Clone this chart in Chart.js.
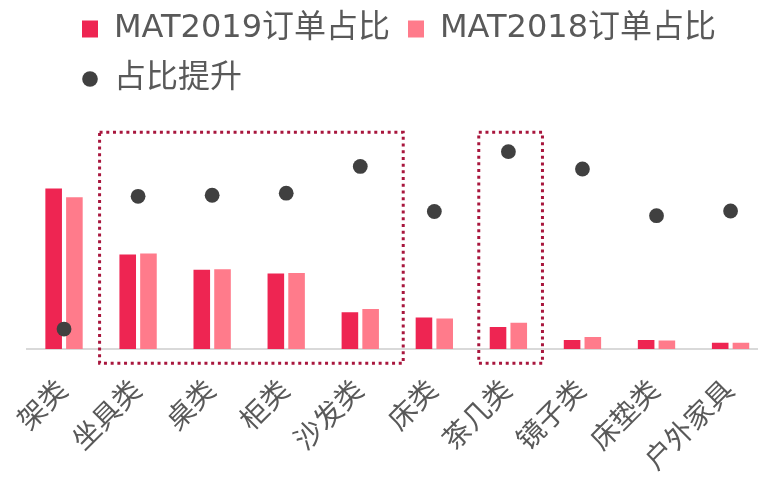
<!DOCTYPE html>
<html>
<head>
<meta charset="utf-8">
<script src="https://cdn.jsdelivr.net/npm/chart.js@4/dist/chart.umd.min.js"></script>
<style>
  html, body { margin: 0; padding: 0; background: #fff; overflow: hidden; }
  #wrap { width: 758px; height: 481px; overflow: hidden; }
  /* last category runs slightly past the right edge */
  #box { width: 775px; height: 481px; }
</style>
</head>
<body>
<div id="wrap"><div id="box"><canvas id="chart"></canvas></div></div>
<script>
const categories = ['架类', '坐具类', '桌类', '柜类', '沙发类', '床类', '茶几类', '镜子类', '床垫类', '户外家具'];
const share2019 = [30.6, 18.0, 15.1, 14.4, 7.0, 6.0, 4.2, 1.7, 1.7, 1.2];
const share2018 = [28.9, 18.2, 15.2, 14.5, 7.6, 5.8, 5.0, 2.3, 1.6, 1.2];
const shareLift = [3.8, 29.1, 29.3, 29.7, 34.8, 26.2, 37.6, 34.3, 25.4, 26.3];

const FONT = "'DejaVu Sans', 'Noto Sans CJK SC', sans-serif";
const TEXT = '#595959';
const DOT = '#404040';

// small round marker for the legend entry of the dots
function makeDot(r, color) {
    const c = document.createElement('canvas');
    c.width = c.height = Math.ceil(2 * r) + 2;
    const g = c.getContext('2d');
    g.fillStyle = color;
    g.beginPath();
    g.arc(c.width / 2, c.height / 2, r, 0, Math.PI * 2);
    g.fill();
    return c;
}
const legendDot = makeDot(7.8, DOT);

// dotted frames around groups of categories
const groupFrames = {
    id: 'groupFrames',
    afterDatasetsDraw(chart, args, opts) {
        const ctx = chart.ctx;
        const x = chart.scales.x, y = chart.scales.y;
        ctx.save();
        ctx.strokeStyle = opts.color;
        ctx.lineWidth = 3;
        ctx.setLineDash([3, 3.7]);
        opts.ranges.forEach(([from, to]) => {
            const l = x.getPixelForValue(from);
            const r = x.getPixelForValue(to);
            const t = y.getPixelForValue(opts.top);
            const b = y.getPixelForValue(opts.bottom);
            ctx.strokeRect(l, t, r - l, b - t);
        });
        ctx.restore();
    }
};

// legend rows start a bit right of the plot's left edge
const legendNudge = {
    id: 'legendNudge',
    afterLayout(chart) {
        chart.legend.left += 37;
        chart.legend.right += 37;
    }
};

new Chart(document.getElementById('chart'), {
    data: {
        labels: categories,
        datasets: [
            {
                type: 'bar',
                label: 'MAT2019订单占比',
                data: share2019,
                backgroundColor: '#EE2552',
                categoryPercentage: 0.56,
                barPercentage: 0.8,
                order: 1
            },
            {
                type: 'bar',
                label: 'MAT2018订单占比',
                data: share2018,
                backgroundColor: '#FF7B8B',
                categoryPercentage: 0.56,
                barPercentage: 0.8,
                order: 1
            },
            {
                type: 'line',
                label: '占比提升',
                data: shareLift,
                showLine: false,
                backgroundColor: DOT,
                borderColor: DOT,
                pointBackgroundColor: DOT,
                pointBorderWidth: 0,
                pointRadius: 7.4,
                order: 0
            }
        ]
    },
    options: {
        responsive: true,
        maintainAspectRatio: false,
        animation: false,
        layout: { padding: { left: 27, right: 0, top: -5, bottom: 0 } },
        plugins: {
            legend: {
                position: 'top',
                align: 'start',
                labels: {
                    usePointStyle: true,
                    pointStyleWidth: 16,
                    boxHeight: 17,
                    padding: 18,
                    color: TEXT,
                    font: { family: FONT, size: 32 },
                    sort: (a, b) => a.datasetIndex - b.datasetIndex,
                    generateLabels(chart) {
                        const items = Chart.defaults.plugins.legend.labels.generateLabels(chart);
                        items.forEach(it => {
                            it.pointStyle = it.datasetIndex === 2 ? legendDot : 'rect';
                            it.lineWidth = 0;
                        });
                        return items;
                    }
                }
            },
            tooltip: { enabled: false },
            groupFrames: {
                color: '#A8163D',
                ranges: [[0.48, 4.58], [5.6, 6.46]],
                top: 41.3,
                bottom: -2.7
            }
        },
        scales: {
            x: {
                grid: { display: false },
                border: { display: true, color: '#D9D9D9', width: 2 },
                ticks: {
                    color: TEXT,
                    font: { family: FONT, size: 28 },
                    minRotation: 45,
                    maxRotation: 45,
                    autoSkip: false,
                    padding: 18
                },
                afterFit(scale) { scale.height = 132; }
            },
            y: {
                display: false,
                min: 0,
                max: 46.5
            }
        }
    },
    plugins: [groupFrames, legendNudge]
});
</script>
</body>
</html>
